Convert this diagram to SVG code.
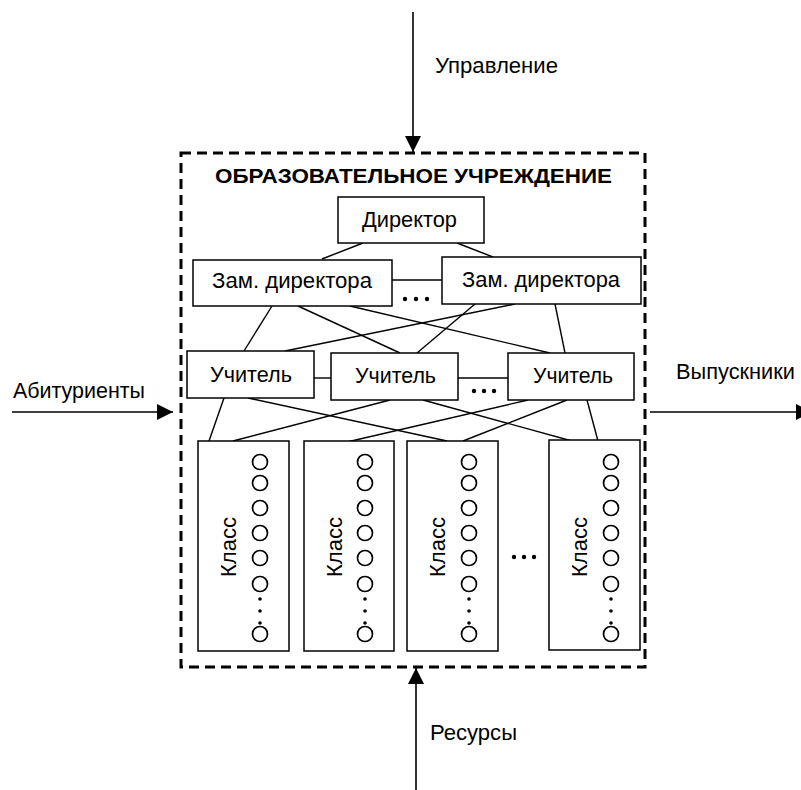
<svg xmlns="http://www.w3.org/2000/svg" width="801" height="790" viewBox="0 0 801 790">
<defs>
<marker id="arr" markerUnits="userSpaceOnUse" markerWidth="17" markerHeight="16" refX="16" refY="8" orient="auto">
<path d="M0,0 L16,8 L0,16 Z" fill="#000"/>
</marker>
<style>
text{font-family:"Liberation Sans",Arial,sans-serif;font-size:22px;fill:#000}
.b{font-weight:bold;font-size:21px}
.box{fill:#fff;stroke:#000;stroke-width:1.5}
.ln{stroke:#000;stroke-width:1.4;fill:none}
.arrow{stroke:#000;stroke-width:1.6;fill:none;marker-end:url(#arr)}
.c{fill:none;stroke:#000;stroke-width:1.7}
.d{fill:#000}
</style>
</defs>
<rect width="801" height="790" fill="#fff"/>

<g id="connectors">
<line class="arrow" x1="413" y1="12" x2="413" y2="152"/>
<line class="arrow" x1="12" y1="412" x2="173" y2="412"/>
<line class="arrow" x1="650" y1="412" x2="812" y2="412"/>
<line class="arrow" x1="416" y1="790" x2="416" y2="668"/>
<line class="ln" x1="363" y1="243" x2="322" y2="259"/>
<line class="ln" x1="457" y1="243" x2="493" y2="257"/>
<line class="ln" x1="392" y1="280" x2="442" y2="280"/>
<line class="ln" x1="272" y1="306" x2="244" y2="351"/>
<line class="ln" x1="298" y1="306" x2="400" y2="353"/>
<line class="ln" x1="350" y1="306" x2="550" y2="353"/>
<line class="ln" x1="515" y1="304" x2="285" y2="351"/>
<line class="ln" x1="475" y1="304" x2="417" y2="353"/>
<line class="ln" x1="555" y1="304" x2="565" y2="353"/>
<line class="ln" x1="314" y1="378" x2="331" y2="378"/>
<line class="ln" x1="458" y1="378" x2="508" y2="378"/>
<line class="ln" x1="224" y1="398" x2="209" y2="441"/>
<line class="ln" x1="248" y1="398" x2="447" y2="441"/>
<line class="ln" x1="390" y1="400" x2="233" y2="441"/>
<line class="ln" x1="423" y1="400" x2="572" y2="441"/>
<line class="ln" x1="528" y1="400" x2="347" y2="442"/>
<line class="ln" x1="567" y1="400" x2="463" y2="441"/>
<line class="ln" x1="587" y1="400" x2="598" y2="441"/>
</g>

<g id="labels">
<text x="435" y="73" textLength="123" lengthAdjust="spacingAndGlyphs">Управление</text>
<text x="13" y="398" textLength="132" lengthAdjust="spacingAndGlyphs">Абитуриенты</text>
<text x="676" y="379" textLength="119" lengthAdjust="spacingAndGlyphs">Выпускники</text>
<text x="430" y="740" textLength="87" lengthAdjust="spacingAndGlyphs">Ресурсы</text>
</g>

<g id="institution">
<rect x="181" y="153" width="464" height="514" fill="none" stroke="#000" stroke-width="3" stroke-dasharray="10 6"/>
<text class="b" x="215" y="183" textLength="397" lengthAdjust="spacingAndGlyphs">ОБРАЗОВАТЕЛЬНОЕ УЧРЕЖДЕНИЕ</text>
</g>

<g id="director">
<rect class="box" x="338" y="197" width="146" height="46"/>
<text x="362" y="227" textLength="95" lengthAdjust="spacingAndGlyphs">Директор</text>
</g>

<g id="deputy1">
<rect class="box" x="193" y="260" width="199" height="46"/>
<text x="212" y="288" textLength="160" lengthAdjust="spacingAndGlyphs">Зам. директора</text>
</g>
<g id="deputy2">
<rect class="box" x="442" y="257" width="199" height="47"/>
<text x="462" y="287" textLength="158" lengthAdjust="spacingAndGlyphs">Зам. директора</text>
</g>
<g id="deputy-dots">
<circle class="d" cx="405" cy="299" r="2.2"/><circle class="d" cx="416" cy="299" r="2.2"/><circle class="d" cx="427" cy="299" r="2.2"/>
</g>

<g id="teacher1">
<rect class="box" x="187" y="351" width="127" height="47"/>
<text x="210" y="382" textLength="82" lengthAdjust="spacingAndGlyphs">Учитель</text>
</g>
<g id="teacher2">
<rect class="box" x="331" y="353" width="127" height="47"/>
<text x="355" y="383" textLength="81" lengthAdjust="spacingAndGlyphs">Учитель</text>
</g>
<g id="teacher3">
<rect class="box" x="508" y="353" width="126" height="47"/>
<text x="533" y="383" textLength="80" lengthAdjust="spacingAndGlyphs">Учитель</text>
</g>
<g id="teacher-dots">
<circle class="d" cx="474" cy="391" r="2.2"/><circle class="d" cx="484" cy="391" r="2.2"/><circle class="d" cx="494" cy="391" r="2.2"/>
</g>

<defs>
<g id="pupils">
<circle class="c" cx="0" cy="462" r="7.5"/>
<circle class="c" cx="0" cy="483" r="7.5"/>
<circle class="c" cx="0" cy="508" r="7.5"/>
<circle class="c" cx="0" cy="533" r="7.5"/>
<circle class="c" cx="0" cy="558" r="7.5"/>
<circle class="c" cx="0" cy="584" r="7.5"/>
<circle class="d" cx="0" cy="599" r="1.8"/>
<circle class="d" cx="0" cy="611" r="1.8"/>
<circle class="d" cx="0" cy="623" r="1.8"/>
<circle class="c" cx="0" cy="634" r="7.5"/>
</g>
</defs>

<g id="class1">
<rect class="box" x="198" y="441" width="91" height="210"/>
<text transform="translate(236,547) rotate(-90)" text-anchor="middle" textLength="60" lengthAdjust="spacingAndGlyphs">Класс</text>
<use href="#pupils" x="260"/>
</g>
<g id="class2">
<rect class="box" x="304" y="441" width="90" height="210"/>
<text transform="translate(342,547) rotate(-90)" text-anchor="middle" textLength="60" lengthAdjust="spacingAndGlyphs">Класс</text>
<use href="#pupils" x="365"/>
</g>
<g id="class3">
<rect class="box" x="407" y="441" width="91" height="210"/>
<text transform="translate(445,547) rotate(-90)" text-anchor="middle" textLength="60" lengthAdjust="spacingAndGlyphs">Класс</text>
<use href="#pupils" x="469"/>
</g>
<g id="class4">
<rect class="box" x="549" y="440" width="91" height="210"/>
<text transform="translate(587,547) rotate(-90)" text-anchor="middle" textLength="60" lengthAdjust="spacingAndGlyphs">Класс</text>
<use href="#pupils" x="611"/>
</g>
<g id="class-dots">
<circle class="d" cx="514" cy="557" r="2.2"/><circle class="d" cx="524" cy="557" r="2.2"/><circle class="d" cx="534" cy="557" r="2.2"/>
</g>
</svg>
